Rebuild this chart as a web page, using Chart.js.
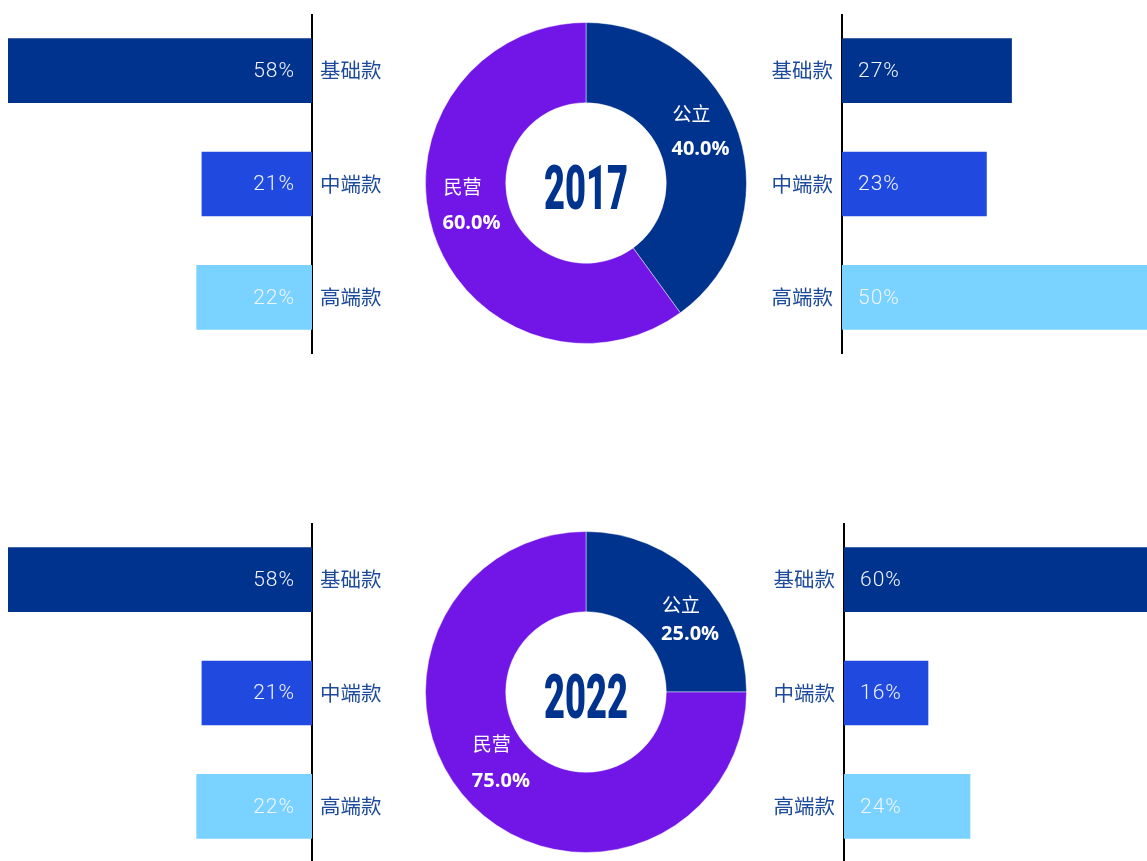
<!DOCTYPE html>
<html><head><meta charset="utf-8">
<script src="https://cdn.jsdelivr.net/npm/chart.js@4.4.1/dist/chart.umd.min.js"></script>
<style>
html,body{margin:0;padding:0;background:#fff;overflow:hidden;width:1147px;height:861px;position:relative;}
.box{position:absolute;}
</style></head><body>
<div class="box" style="left:8px;top:14px;width:384px;height:340px"><canvas id="left2017"></canvas></div>
<div class="box" style="left:425px;top:22px;width:322px;height:322px"><canvas id="donut2017"></canvas></div>
<div class="box" style="left:752px;top:14px;width:404px;height:340px"><canvas id="right2017"></canvas></div>
<div class="box" style="left:8px;top:523px;width:384px;height:340px"><canvas id="left2022"></canvas></div>
<div class="box" style="left:425px;top:531px;width:322px;height:322px"><canvas id="donut2022"></canvas></div>
<div class="box" style="left:754px;top:523px;width:405px;height:340px"><canvas id="right2022"></canvas></div>
<script>
// ---- data ----
const tiers = ['基础款', '中端款', '高端款'];
const ownership = ['公立', '民营'];
const years = ['2017', '2022'];
const share2017 = [40, 60];
const share2022 = [25, 75];
const leftBars2017 = [58, 21, 22];
const rightBars2017 = [27, 23, 50];
const leftBars2022 = [58, 21, 22];
const rightBars2022 = [60, 16, 24];

// ---- styles ----
const tierColors = ['#00338D', '#2049E0', '#79D2FF'];
const donutColors = ['#00338D', '#7216E8'];
const labelColor = '#1d4a9a';

Chart.defaults.animation = false;
Chart.defaults.font.family = "'Noto Sans CJK SC', 'Noto Sans', sans-serif";

const barValueLabels = {
  id: 'barValueLabels',
  afterDatasetsDraw(chart) {
    const {ctx} = chart;
    const meta = chart.getDatasetMeta(0);
    const ds = chart.data.datasets[0];
    ctx.save();
    ctx.font = "300 21px Roboto, 'Open Sans', sans-serif";
    ctx.letterSpacing = '1px';
    ctx.fillStyle = '#f2f4ff';
    ctx.textBaseline = 'middle';
    meta.data.forEach((bar, i) => {
      const dir = Math.sign(bar.x - bar.base);
      const txt = ds.data[i] + '%';
      if (dir < 0) { ctx.textAlign = 'right'; ctx.fillText(txt, bar.base - 17, bar.y + 1); }
      else { ctx.textAlign = 'left'; ctx.fillText(txt, bar.base + 16, bar.y + 1); }
    });
    ctx.restore();
  }
};

function barChart(id, values, side) {
  const isLeft = side === 'left';
  return new Chart(document.getElementById(id), {
    type: 'bar',
    data: { labels: tiers, datasets: [{ data: values, backgroundColor: tierColors, barThickness: 64, borderWidth: 0 }] },
    options: {
      indexAxis: 'y',
      responsive: true, maintainAspectRatio: false,
      layout: { padding: 0 },
      plugins: { legend: { display: false }, tooltip: { enabled: false } },
      scales: {
        x: { display: false, min: 0, max: Math.max(...values), reverse: isLeft, bounds: 'data' },
        y: {
          position: isLeft ? 'right' : 'left',
          grid: { display: false, drawTicks: false },
          border: { display: true, color: '#000', width: 2 },
          ticks: { color: labelColor, padding: isLeft ? 8 : 9, font: { size: 20.5 } },
          afterFit(scale) { scale.width = 90 - (isLeft ? 10 : 0); scale.paddingTop = 0; scale.paddingBottom = 0; }
        }
      }
    },
    plugins: [barValueLabels]
  });
}

const sliceLabels = {
  id: 'sliceLabels',
  afterDatasetsDraw(chart, args, opts) {
    const {ctx} = chart;
    const meta = chart.getDatasetMeta(0);
    const ds = chart.data.datasets[0];
    ctx.save();
    ctx.fillStyle = '#ffffff';
    ctx.textBaseline = 'middle';
    ctx.textAlign = 'left';
    meta.data.forEach((arc, i) => {
      const p = arc.getProps(['x', 'y', 'startAngle', 'endAngle', 'innerRadius', 'outerRadius'], true);
      const mid = (p.startAngle + p.endAngle) / 2;
      const r = (p.innerRadius + p.outerRadius) / 2;
      const sh = opts.shift[i];
      const cx = p.x + Math.cos(mid) * r + sh[0];
      const cy = p.y + Math.sin(mid) * r + sh[1] + 3;
      const val = ds.data[i].toFixed(1) + '%';
      ctx.font = "bold 20px 'Open Sans', sans-serif";
      const w = ctx.measureText(val).width;
      const lx = cx - w / 2;
      ctx.fillText(val, lx, cy);
      ctx.font = "19px 'Noto Sans CJK SC', sans-serif";
      ctx.fillText(chart.data.labels[i], lx + 1, cy - opts.gap[i]);
    });
    ctx.restore();
  }
};

const centerText = {
  id: 'centerText',
  afterDraw(chart, args, opts) {
    const {ctx} = chart;
    const arc = chart.getDatasetMeta(0).data[0];
    const cx = arc.x, cy = arc.y;
    ctx.save();
    ctx.font = "900 62px Roboto, 'Liberation Sans', sans-serif";
    const w = ctx.measureText(opts.text).width;
    const sx = 84 / w;
    ctx.translate(cx, cy + 8);
    ctx.scale(sx, 1);
    ctx.fillStyle = '#00338D';
    ctx.textAlign = 'center';
    ctx.textBaseline = 'middle';
    ctx.fillText(opts.text, 0, 2);
    ctx.restore();
  }
};

function donut(id, values, year, shift, gap) {
  return new Chart(document.getElementById(id), {
    type: 'doughnut',
    data: { labels: ownership, datasets: [{ data: values, backgroundColor: donutColors, borderColor: 'rgba(255,255,255,0.45)', borderWidth: 1 }] },
    options: {
      responsive: true, maintainAspectRatio: false,
      cutout: '50%',
      layout: { padding: 0 },
      plugins: {
        legend: { display: false }, tooltip: { enabled: false },
        sliceLabels: { shift, gap },
        centerText: { text: year }
      }
    },
    plugins: [sliceLabels, centerText]
  });
}

barChart('left2017', leftBars2017, 'left');
barChart('right2017', rightBars2017, 'right');
barChart('left2022', leftBars2022, 'left');
barChart('right2022', rightBars2022, 'right');
donut('donut2017', share2017, years[0], [[0, 0], [0, 0]], [35, 36]);
donut('donut2022', share2022, years[1], [[19, 24], [0, 1]], [29, 37]);
</script>
</body></html>
